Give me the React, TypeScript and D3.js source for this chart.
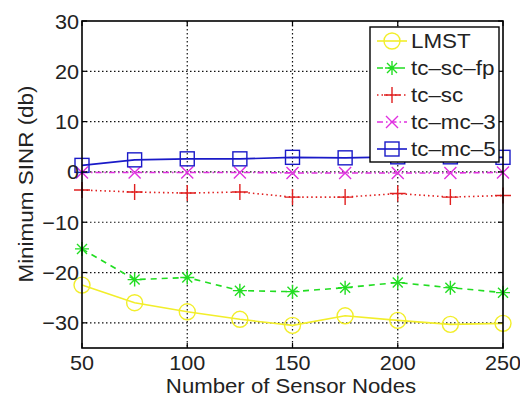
import React from "react";
import * as d3 from "d3";

const nodes = [50, 75, 100, 125, 150, 175, 200, 225, 250];
const lmst = [-22.5, -26, -27.8, -29.3, -30.5, -28.6, -29.5, -30.3, -30.1];
const tcScFp = [-15.3, -21.4, -21, -23.6, -23.8, -23, -22, -23, -24];
const tcSc = [-3.6, -4, -4.2, -4, -5, -5, -4.3, -5, -4.7];
const tcMc3 = [-0.1, -0.1, -0.1, -0.1, -0.2, -0.2, -0.2, -0.2, -0.1];
const tcMc5 = [1.3, 2.4, 2.6, 2.6, 2.9, 2.8, 3.0, 3.0, 2.9];
const seriesNames = ["LMST", "tc\u2013sc\u2013fp", "tc\u2013sc", "tc\u2013mc\u20133", "tc\u2013mc\u20135"];
const xTicks = [50, 100, 150, 200, 250];
const yTicks = [-30, -20, -10, 0, 10, 20, 30];

const W = 520, H = 398;
const L = 82, R = 503, T = 21, B = 348;
const FONT = "'Liberation Sans', Arial, Helvetica, sans-serif";

type S = { name: string; values: number[]; color: string; dash: string; marker: string };
const series: S[] = [
  { name: seriesNames[0], values: lmst, color: "#f2ee2a", dash: "", marker: "o" },
  { name: seriesNames[1], values: tcScFp, color: "#22dd22", dash: "6,5", marker: "*" },
  { name: seriesNames[2], values: tcSc, color: "#e02020", dash: "1.5,3", marker: "+" },
  { name: seriesNames[3], values: tcMc3, color: "#e030e0", dash: "6,3,1.5,3", marker: "x" },
  { name: seriesNames[4], values: tcMc5, color: "#1a1ac8", dash: "", marker: "s" },
];

function Marker({ type, x, y, color }: { type: string; x: number; y: number; color: string }) {
  const sw = 1.4;
  if (type === "o") return <circle cx={x} cy={y} r={8} fill="none" stroke={color} strokeWidth={sw} />;
  if (type === "s") return <rect x={x - 7} y={y - 7} width={14} height={14} fill="none" stroke={color} strokeWidth={sw} />;
  if (type === "+") {
    const a = 8;
    return <path d={`M${x - a},${y}H${x + a}M${x},${y - a}V${y + a}`} stroke={color} strokeWidth={sw} fill="none" />;
  }
  if (type === "x") {
    const a = 6;
    return <path d={`M${x - a},${y - a}L${x + a},${y + a}M${x - a},${y + a}L${x + a},${y - a}`} stroke={color} strokeWidth={sw} fill="none" />;
  }
  const a = 7, b = 5;
  return (
    <path
      d={`M${x - a},${y}H${x + a}M${x},${y - a}V${y + a}M${x - b},${y - b}L${x + b},${y + b}M${x - b},${y + b}L${x + b},${y - b}`}
      stroke={color}
      strokeWidth={sw}
      fill="none"
    />
  );
}

export default function App() {
  const x = d3.scaleLinear().domain([50, 250]).range([L, R]);
  const y = d3.scaleLinear().domain([-35, 30]).range([B, T]);
  const line = d3
    .line<number>()
    .x((_, i) => x(nodes[i]))
    .y((d) => y(d));

  const lgL = 370, lgR = 499, lgT = 27, lgB = 162;
  const rowH = 27;

  return (
    <svg width={W} height={H} style={{ position: "absolute", left: 0, top: 0, background: "#fff" }} fontFamily={FONT}>
      <rect x={0} y={0} width={W} height={H} fill="#fff" />
      {xTicks.slice(1, -1).map((t) => (
        <line key={"gx" + t} x1={x(t)} x2={x(t)} y1={T} y2={B} stroke="#111" strokeWidth={1.2} strokeDasharray="1.5,2.5" />
      ))}
      {yTicks.filter((t) => t < 30).map((t) => (
        <line key={"gy" + t} x1={L} x2={R} y1={y(t)} y2={y(t)} stroke="#111" strokeWidth={1.2} strokeDasharray="1.5,2.5" />
      ))}
      {series.map((s) => (
        <g key={s.name}>
          <path d={line(s.values) || ""} fill="none" stroke={s.color} strokeWidth={1.6} strokeDasharray={s.dash || undefined} />
          {s.values.map((v, i) => (
            <Marker key={i} type={s.marker} x={x(nodes[i])} y={y(v)} color={s.color} />
          ))}
        </g>
      ))}
      <rect x={L} y={T} width={R - L} height={B - T} fill="none" stroke="#000" strokeWidth={1.6} />
      {xTicks.map((t) => (
        <g key={"xt" + t}>
          <line x1={x(t)} x2={x(t)} y1={B} y2={B - 5} stroke="#000" strokeWidth={1.2} />
          <line x1={x(t)} x2={x(t)} y1={T} y2={T + 5} stroke="#000" strokeWidth={1.2} />
          <text transform={`translate(${x(t)},370) scale(1.08,1)`} textAnchor="middle" fontSize={20} fill="#222">
            {t}
          </text>
        </g>
      ))}
      {yTicks.map((t) => (
        <g key={"yt" + t}>
          <line x1={L} x2={L + 5} y1={y(t)} y2={y(t)} stroke="#000" strokeWidth={1.2} />
          <line x1={R} x2={R - 5} y1={y(t)} y2={y(t)} stroke="#000" strokeWidth={1.2} />
          <text transform={`translate(79,${y(t) + 7.5}) scale(1.03,1)`} textAnchor="end" fontSize={21} fill="#222">
            {t < 0 ? "\u2212" + Math.abs(t) : t}
          </text>
        </g>
      ))}
      <text transform="translate(291,393) scale(1.11,1)" textAnchor="middle" fontSize={20} fill="#222">
        Number of Sensor Nodes
      </text>
      <text transform="translate(33,184) rotate(-90) scale(1.07,1)" textAnchor="middle" fontSize={21} fill="#222">
        Minimum SINR (db)
      </text>
      <rect x={lgL} y={lgT} width={lgR - lgL} height={lgB - lgT} fill="#fff" stroke="#000" strokeWidth={1.4} />
      {series.map((s, i) => {
        const cy = 41 + i * rowH;
        return (
          <g key={"lg" + s.name}>
            <line x1={377} x2={407} y1={cy} y2={cy} stroke={s.color} strokeWidth={1.6} strokeDasharray={s.dash || undefined} />
            <Marker type={s.marker} x={392} y={cy} color={s.color} />
            <text transform={`translate(411,${cy + 7}) scale(1.12,1)`} fontSize={20} fill="#222">
              {s.name}
            </text>
          </g>
        );
      })}
    </svg>
  );
}
